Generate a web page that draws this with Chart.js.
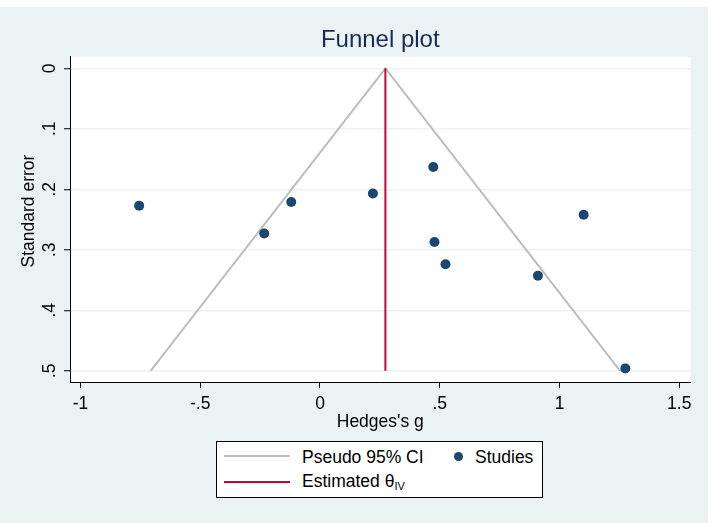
<!DOCTYPE html>
<html><head><meta charset="utf-8">
<script src="https://cdn.jsdelivr.net/npm/chart.js@4.4.1/dist/chart.umd.min.js"></script>
<style>
html,body{margin:0;padding:0;background:#fff;width:712px;height:523px;overflow:hidden;font-family:"Liberation Sans",Arial,sans-serif;}
#wrap{position:relative;width:712px;height:523px;}
#c{position:absolute;left:0;top:0;}
#legend{position:absolute;left:216px;top:441px;width:325px;height:55px;border:1px solid #000;background:#fff;font-size:17.5px;color:#000;}
#legend .ln{position:absolute;height:2px;width:66px;left:7px;}
#legend .tx{position:absolute;line-height:20px;white-space:nowrap;}
#legend .dot{position:absolute;width:9px;height:9px;border-radius:50%;}
#legend sub{font-size:11px;vertical-align:-3px;line-height:0;}
</style></head><body>
<div id="wrap">
<canvas id="c" width="712" height="523"></canvas>
<div id="legend">
  <span class="ln" style="top:13px;background:#bdbdbd"></span>
  <span class="tx" style="left:85px;top:5px">Pseudo 95% CI</span>
  <span class="dot" style="left:237px;top:9.5px;background:#1a476f"></span>
  <span class="tx" style="left:258px;top:5px">Studies</span>
  <span class="ln" style="top:38.7px;background:#c10534"></span>
  <span class="tx" style="left:85px;top:28.7px">Estimated θ<sub>IV</sub></span>
</div>
</div>
<script>
// ---- data ----
const studyG  = [-0.755, -0.120, -0.233, 0.221, 0.473, 0.478, 0.524, 1.101, 0.910, 1.275];
const studySE = [0.227, 0.221, 0.273, 0.207, 0.163, 0.287, 0.324, 0.242, 0.343, 0.496];
const ciG  = [-0.707, 0.273, 1.253];
const ciSE = [0.5, 0, 0.5];
const estG  = [0.273, 0.273];
const estSE = [0, 0.5];
const xTickValues = [-1, -0.5, 0, 0.5, 1, 1.5];
const xTickLabels = ["-1", "-.5", "0", ".5", "1", "1.5"];
const yTickValues = [0, 0.1, 0.2, 0.3, 0.4, 0.5];
const yTickLabels = ["0", ".1", ".2", ".3", ".4", ".5"];
const yTitle = 'Standard error';

const FONT = "'Liberation Sans', Arial, sans-serif";
const toPts = (xs, ys) => xs.map((x, i) => ({x: x, y: ys[i]}));

const bgPlugin = {
  id: 'bg',
  beforeDraw(chart) {
    const {ctx, chartArea: a} = chart;
    ctx.save();
    ctx.fillStyle = '#ffffff';
    ctx.fillRect(0, 0, chart.width, chart.height);
    ctx.fillStyle = '#eaf2f3';
    ctx.fillRect(0, 7, 708, 516);
    ctx.fillStyle = '#ffffff';
    ctx.fillRect(a.left, a.top, a.right - a.left, a.bottom - a.top);
    ctx.restore();
  },
  afterDraw(chart) {
    const ctx = chart.ctx;
    ctx.save();
    ctx.translate(29.3, 211);
    ctx.rotate(-Math.PI / 2);
    ctx.font = "17.5px " + FONT;
    ctx.fillStyle = '#000';
    ctx.textAlign = 'center';
    ctx.textBaseline = 'middle';
    ctx.fillText(yTitle, 0, 0);
    ctx.restore();
  }
};

new Chart(document.getElementById('c'), {
  type: 'scatter',
  data: {
    datasets: [
      {label: 'Studies', data: toPts(studyG, studySE), backgroundColor: '#1a476f', borderColor: '#1a476f',
       pointRadius: 5, pointHoverRadius: 5, borderWidth: 0, order: 0},
      {label: 'Pseudo 95% CI', type: 'line', data: toPts(ciG, ciSE), borderColor: '#bdbdbd', borderWidth: 2,
       pointRadius: 0, fill: false, tension: 0, order: 2},
      {label: 'Estimated θIV', type: 'line', data: toPts(estG, estSE), borderColor: '#c10534', borderWidth: 2,
       pointRadius: 0, fill: false, tension: 0, order: 1}
    ]
  },
  options: {
    responsive: false,
    animation: false,
    events: [],
    layout: {padding: {left: 0, right: 21.5, top: 0, bottom: 0}},
    plugins: {
      legend: {display: false},
      tooltip: {enabled: false},
      title: {display: true, text: 'Funnel plot', color: '#1a2a55', fullSize: false,
              font: {family: FONT, size: 24, weight: 'normal', lineHeight: 1.2},
              padding: {top: 25.6, bottom: 2.3}}
    },
    scales: {
      x: {
        type: 'linear', position: 'bottom', min: -1.0438, max: 1.547,
        afterFit(s) { s.height = 141; },
        afterBuildTicks(s) { s.ticks = xTickValues.map(v => ({value: v})); },
        ticks: {color: '#000', font: {family: FONT, size: 17.5}, padding: 5.5, maxRotation: 0, autoSkip: false,
                callback: (v) => xTickLabels[xTickValues.indexOf(v)]},
        grid: {drawOnChartArea: false, drawTicks: true, tickLength: 6, tickColor: '#000', tickWidth: 1},
        border: {display: true, color: '#000', width: 1},
        title: {display: true, text: "Hedges's g", color: '#000', font: {family: FONT, size: 17.5, lineHeight: 1.2},
                padding: {top: 0, bottom: 90}}
      },
      y: {
        type: 'linear', position: 'left', reverse: true, min: -0.0192, max: 0.5185,
        afterFit(s) { s.width = 70; },
        afterBuildTicks(s) { s.ticks = yTickValues.map(v => ({value: v})); },
        ticks: {color: '#000', font: {family: FONT, size: 17.5}, padding: 7, minRotation: 90, maxRotation: 90,
                crossAlign: 'center', autoSkip: false,
                callback: (v) => yTickLabels[yTickValues.indexOf(v)]},
        grid: {drawOnChartArea: true, color: '#eaf2f3', lineWidth: 1.5, drawTicks: true, tickLength: 6,
               tickColor: '#000', tickWidth: 1},
        border: {display: true, color: '#000', width: 1},
        title: {display: false}
      }
    }
  },
  plugins: [bgPlugin]
});
</script>
</body></html>
